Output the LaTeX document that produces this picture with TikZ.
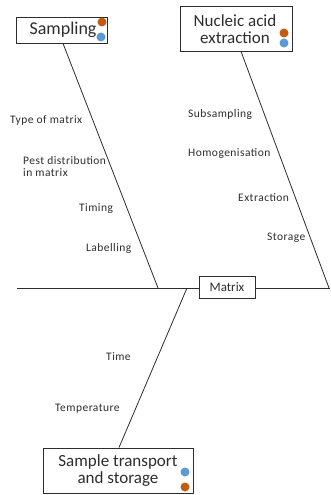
\documentclass[tikz,border=0pt]{standalone}
\usepackage{fontspec}
\setmainfont{Carlito}
\newfontfamily\labelfont[LetterSpace=4]{Carlito}
\definecolor{dotorange}{RGB}{197,90,17}
\definecolor{dotblue}{RGB}{91,155,213}
\definecolor{inkgray}{RGB}{45,45,45}
\begin{document}
\begin{tikzpicture}[x=1pt,y=-1pt,
  bone/.style={draw=inkgray, line width=0.8pt},
  causebox/.style={draw=inkgray, line width=0.9pt, fill=white, inner sep=0pt, text=inkgray},
  cause/.style={font=\labelfont\fontsize{11.5}{13}\selectfont, text=inkgray, inner sep=0pt, anchor=base west},
  dot/.style={circle, inner sep=0pt, minimum size=9pt},
  orangedot/.style={dot, fill=dotorange},
  bluedot/.style={dot, fill=dotblue}]
\useasboundingbox (0,0) rectangle (330,495);
\fill[white] (0,0) rectangle (330,495);

% category boxes
\node[causebox, minimum width=91pt, minimum height=26pt] (samp) at (61.5,30) {};
\node[font=\fontsize{18}{20}\selectfont, text=inkgray] (samptxt) at (63,30) {Sampling};
\node[orangedot] (sampo) at (102,22) {};
\node[bluedot] (sampb) at (101,37) {};

\node[causebox, minimum width=112pt, minimum height=45pt] (nae) at (236,28.5) {};
\node[font=\fontsize{17}{17}\selectfont, text=inkgray, align=center] (naetxt) at (235,29) {Nucleic acid\\extraction};
\node[orangedot] (naeo) at (284,33) {};
\node[bluedot] (naeb) at (284,43) {};

\node[causebox, minimum width=150pt, minimum height=45pt] (sts) at (118,470.5) {};
\node[font=\fontsize{17}{17}\selectfont, text=inkgray, align=center] (ststxt) at (118,471) {Sample transport\\and storage};
\node[bluedot] (stsb) at (185,472) {};
\node[orangedot] (stso) at (185,487) {};

% effect box
\node[causebox, minimum width=56pt, minimum height=22pt, font=\fontsize{13}{15}\selectfont] (mat) at (227,287) {Matrix};

% spine and bones
\coordinate (spineL) at (17,288);
\coordinate (spineR) at (330,288);
\coordinate (sampfoot) at (158,288);
\coordinate (naefoot) at (329,288);
\coordinate (stsfoot) at (187,288);
\draw[bone] (spineL) -- (mat.west |- spineL);
\draw[bone] (mat.east |- spineR) -- (spineR);
\draw[bone] (samp.south -| 63,0) -- (sampfoot);
\draw[bone] (nae.south -| 241,0) -- (naefoot);
\draw[bone] (stsfoot) -- (sts.north -| 119,0);

% contributing factors
\node[cause] (c1) at (10,123) {Type of matrix};
\node[cause] (c2) at (23,164) {Pest distribution};
\node[cause] (c2b) at (23,176) {in matrix};
\node[cause] (c3) at (79,211) {Timing};
\node[cause] (c4) at (86,251) {Labelling};
\node[cause] (c5) at (188,117) {Subsampling};
\node[cause] (c6) at (188,156) {Homogenisation};
\node[cause] (c7) at (238,201) {Extraction};
\node[cause] (c8) at (267,240) {Storage};
\node[cause] (c9) at (106,360) {Time};
\node[cause] (c10) at (55,411) {Temperature};
\end{tikzpicture}
\end{document}
